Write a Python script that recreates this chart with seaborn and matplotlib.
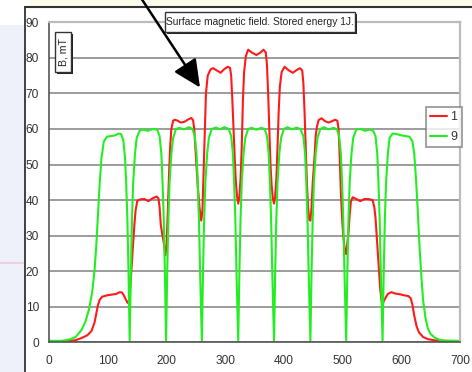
import numpy as np
import pandas as pd
import matplotlib
matplotlib.use("Agg")
import matplotlib.pyplot as plt
import seaborn as sns
from matplotlib.patches import Rectangle
from matplotlib.lines import Line2D

# Surface magnetic field along the cavity, mode 1 (red) and mode 9 (green)
green_x = [0, 20, 35, 45, 55, 62, 68, 73, 77, 80, 83, 86, 89, 93, 98, 105, 112, 118, 122, 126, 129, 131, 133, 135, 137,
           139, 141, 143, 146, 149, 154, 160, 168, 176, 184, 188, 191, 193, 195, 197, 199,
           201, 203, 205, 208, 211, 216, 222, 230, 238, 244, 248, 251, 253, 255, 257, 260,
           262, 264, 266, 269, 272, 277, 284, 291, 298, 306, 310, 313, 315, 317, 319, 322,
           324, 326, 328, 331, 334, 339, 345, 353, 361, 367, 371, 374, 376, 378, 380, 383,
           385, 387, 389, 392, 395, 400, 406, 414, 421, 428, 433, 436, 438, 440, 442, 445,
           447, 449, 451, 454, 457, 462, 468, 476, 484, 490, 494, 497, 499, 501, 503, 506,
           508, 510, 512, 515, 518, 523, 530, 538, 546, 552, 556, 559, 561, 563, 565, 568,
           570, 572, 574, 577, 580, 585, 591, 600, 608, 614, 619, 622, 625, 628, 631, 634, 637, 641, 645, 650, 657, 665, 675, 700]
green_y = [0.4, 0.4, 0.8, 1.5, 3.5, 6, 9.5, 14, 20, 27, 36, 45, 52, 56.5, 57.8, 58, 58.2, 58.7, 58.6, 57, 52, 45, 35, 20, 0.5,
           20, 35, 45, 53, 57.5, 59.5, 59.8, 59.5, 60, 59.8, 58, 53, 45, 35, 20, 0.5,
           20, 35, 45, 53, 57.5, 60, 60.3, 59.9, 60.5, 60, 58, 53, 45, 35, 20, 0.5,
           20, 35, 45, 53, 57.5, 60, 60.4, 59.9, 60.5, 60, 58, 53, 45, 35, 20, 0.5,
           20, 35, 45, 53, 57.5, 60, 60.3, 59.8, 60.3, 60, 58, 53, 45, 35, 20, 0.5,
           20, 35, 45, 53, 57.5, 60, 60.5, 59.9, 60.4, 60, 58, 53, 45, 35, 20, 0.5,
           20, 35, 45, 53, 57.5, 60, 60.5, 59.9, 60.3, 60, 58, 53, 45, 35, 20, 0.5,
           20, 35, 45, 53, 57.5, 59.8, 60, 59.5, 59.8, 59.5, 58, 53, 45, 35, 20, 0.5,
           20, 35, 45, 53, 57.5, 58.7, 58.6, 58.2, 58, 57.8, 56.5, 53, 46, 37, 27, 19, 12, 7, 4, 2.3, 1.3, 0.7, 0.5, 0.4]

red_x = [0, 30, 45, 55, 65, 72, 77, 80, 83, 86, 90, 98, 106, 114, 120, 124, 127, 130, 133, 135,
         137, 139, 141, 143, 145, 147, 150, 155, 162, 169, 176, 183, 186, 188, 190, 192, 195, 198,
         200, 202, 204, 206, 208, 211, 214, 219, 224, 230, 236, 242, 245, 247, 250, 253, 256, 259,
         261, 263, 265, 267, 270, 275, 279, 285, 292, 298, 304, 308, 310, 312, 314, 316, 318, 320, 322,
         324, 326, 328, 330, 332, 335, 339, 345, 353, 360, 365, 369, 371, 373, 375, 377, 379, 381, 383,
         385, 387, 389, 391, 393, 396, 401, 408, 415, 421, 427, 431, 433, 435, 437, 439, 441, 443, 445,
         447, 449, 452, 454, 456, 459, 464, 470, 476, 482, 487, 491, 493, 495, 497, 499, 501, 504, 506,
         508, 510, 512, 514, 517, 522, 530, 537, 544, 551, 554, 556, 558, 560, 562, 564, 566, 568,
         570, 573, 577, 583, 590, 598, 605, 612, 616, 619, 622, 626, 630, 637, 645, 655, 665, 700]
red_y = [0.3, 0.3, 0.6, 1.2, 2, 3.2, 5.5, 8, 10.5, 12, 12.8, 13.2, 13.4, 13.6, 14.1, 14.0, 13.2, 12.2, 11.2, 11,
         13, 18, 23, 28, 33, 37, 39.8, 40.2, 40.3, 39.7, 40.5, 41, 40.5, 38, 33, 31, 28, 24.5,
         28, 37, 47, 55, 60, 62.3, 62.6, 62.3, 61.8, 62, 62.6, 63.1, 62.5, 60, 52, 44, 38, 34.2,
         37, 48, 60, 70, 75, 76.8, 77.1, 76.5, 75.8, 76.8, 77.5, 77.2, 75, 68, 60, 52, 45, 41, 39,
         41, 46, 55, 68, 76, 80.5, 82.3, 81.5, 80.8, 81.5, 82.3, 81.5, 78, 70, 60, 50, 44, 40.5, 39,
         41, 46, 55, 65, 72, 76, 77.5, 76.5, 75.8, 76.5, 77.1, 76.5, 73, 65, 55, 45, 38, 34.5, 34.2,
         38, 45, 52, 58, 60.5, 62.5, 63, 62.2, 61.8, 62.2, 62.6, 62.3, 60, 52, 42, 35, 30, 25.5, 24.8,
         28, 31, 36, 39.5, 40.8, 40.4, 39.7, 40.3, 40.3, 40, 38, 35, 30, 25, 20, 15, 12, 11,
         11.5, 12.5, 13.6, 14.1, 13.7, 13.5, 13.2, 13, 12.4, 10.5, 7.5, 4.5, 2.8, 1.5, 0.9, 0.6, 0.4, 0.3]

series_names = ["1", "9"]
x_ticks = [0, 100, 200, 300, 400, 500, 600, 700]
y_ticks = [0, 10, 20, 30, 40, 50, 60, 70, 80, 90]
title_text = "Surface magnetic field. Stored energy 1J."
ylabel_text = "B, mT"

df = pd.concat([
    pd.DataFrame({"x": red_x, "B": red_y, "mode": series_names[0]}),
    pd.DataFrame({"x": green_x, "B": green_y, "mode": series_names[1]}),
])

sns.set_style("white")
plt.rcParams["font.family"] = ["Liberation Sans", "DejaVu Sans"]

W, H = 472, 372
fig = plt.figure(figsize=(W / 100, H / 100), dpi=100, facecolor="white")


def px_rect(x0, y0, x1, y1, **kw):
    # rectangle given in picture pixels (top-left origin)
    r = Rectangle((x0 / W, 1 - y1 / H), (x1 - x0) / W, (y1 - y0) / H, transform=fig.transFigure, **kw)
    fig.patches.append(r)
    return r


# slide background bits around the chart
px_rect(0, 25, 24.5, H, facecolor="#eef1f9", edgecolor="none", zorder=-2)
px_rect(30, 0, W, 7, facecolor="#fdfbea", edgecolor="none", zorder=-2)
fig.lines.append(Line2D([0, 23 / W], [(H - 263) / H] * 2, transform=fig.transFigure,
                        color="#ecd2e0", lw=1.5, zorder=-1))
fig.lines.append(Line2D([24.5 / W, 24.5 / W], [0, (H - 7) / H], transform=fig.transFigure,
                        color="#222222", lw=1.2, zorder=-1))
fig.lines.append(Line2D([24.5 / W, 1], [(H - 7) / H] * 2, transform=fig.transFigure,
                        color="#333333", lw=1.5, zorder=-1))

ax = fig.add_axes([49.3 / W, (H - 342.3) / H, (460 - 49.3) / W, 320 / H])
sns.lineplot(data=df, x="x", y="B", hue="mode", palette={"1": "#ff1a1a", "9": "#22ee22"},
             estimator=None, sort=False, lw=1.5, ax=ax)

ax.set_xlim(0, 700)
ax.set_ylim(0, 90)
ax.set_xticks(x_ticks)
ax.set_yticks(y_ticks)
ax.set_xlabel("")
ax.set_ylabel("")
ax.yaxis.grid(True, color="#9c9c9c", lw=1.4)
ax.set_axisbelow(True)
ax.tick_params(direction="out", length=4, width=1, color="#555555", labelcolor="#333333",
               labelsize=8.6)
ax.tick_params(axis="y", pad=3.4)
ax.tick_params(axis="x", pad=5)
for s in ["left", "bottom"]:
    ax.spines[s].set_color("#555555")
    ax.spines[s].set_linewidth(1.2)
for s in ["top", "right"]:
    ax.spines[s].set_color("#bbbbbb")
    ax.spines[s].set_linewidth(1.6)

leg = ax.legend(loc="upper right", bbox_to_anchor=(1.004, 0.735), frameon=True, fancybox=False,
                fontsize=9, handlelength=1.35, handletextpad=0.25, borderpad=0.35,
                labelspacing=0.6, borderaxespad=0)
leg.get_frame().set_edgecolor("#777777")
leg.get_frame().set_linewidth(1.2)
for t in leg.get_texts():
    t.set_color("#333333")

# title box with drop shadow
px_rect(167, 14, 357, 33.5, facecolor="#222222", edgecolor="none", zorder=5)
px_rect(165, 12, 355, 31.5, facecolor="white", edgecolor="#333333", lw=1, zorder=6)
fig.text(260 / W, 1 - 22 / H, title_text, ha="center", va="center", fontsize=7.4,
         color="#222222", zorder=7)

# axis label box with drop shadow
px_rect(57, 34, 73, 73.5, facecolor="#222222", edgecolor="none", zorder=5)
px_rect(55, 32, 71, 71.5, facecolor="white", edgecolor="#333333", lw=1, zorder=6)
fig.text(63.5 / W, 1 - 51.5 / H, ylabel_text, ha="center", va="center", rotation=90, fontsize=7.6,
         color="#222222", zorder=7)

# pointer arrow from the slide
ax.annotate("", xy=(200, H - 87.5), xytext=(141, H + 2), xycoords="figure pixels",
            textcoords="figure pixels", annotation_clip=False,
            arrowprops=dict(arrowstyle="-|>,head_length=1.05,head_width=0.5", lw=1.8, color="black",
                            mutation_scale=16, shrinkA=0, shrinkB=0))

fig.savefig("out.png", dpi=100)
